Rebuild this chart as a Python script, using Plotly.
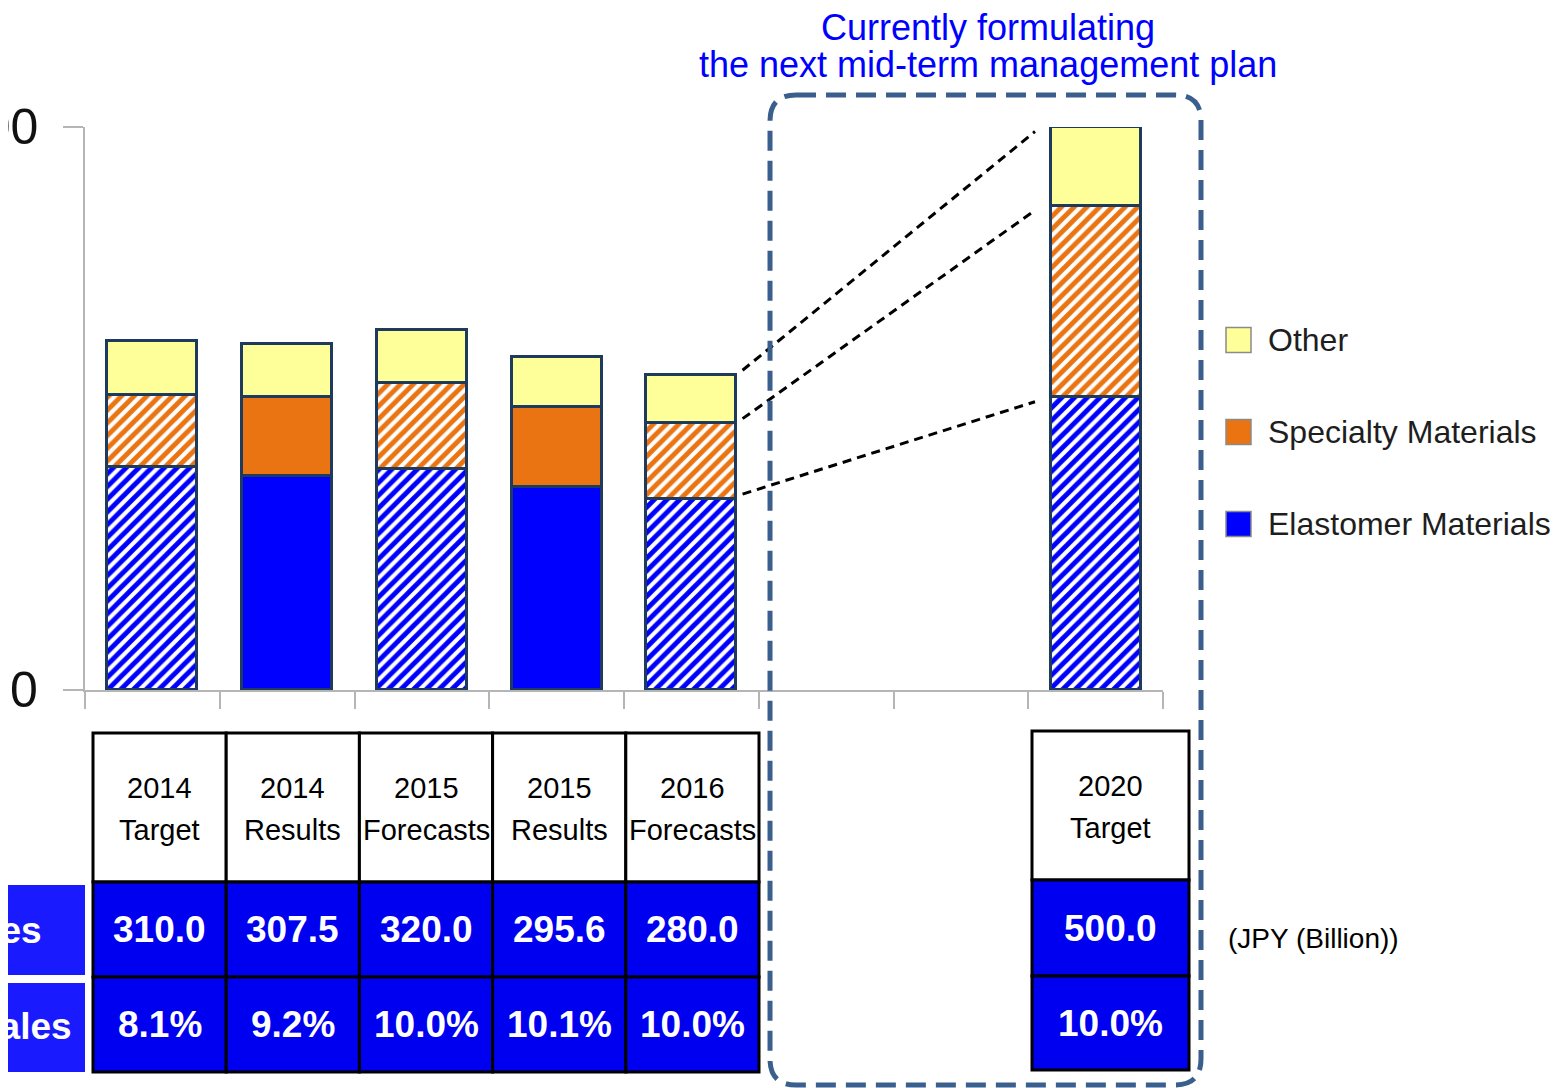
import plotly.graph_objects as go

# ---- data (JPY billion) ----
period_years = ["2014", "2014", "2015", "2015", "2016", "2020"]
period_kinds = ["Target", "Results", "Forecasts", "Results", "Forecasts", "Target"]
bar_slots = [0, 1, 2, 3, 4, 7]
elastomer = [198, 190, 196, 180, 170, 260]
specialty = [64, 70, 77, 71, 67, 170]
other = [48, 47.5, 47, 44.6, 43, 70]
net_sales = [310.0, 307.5, 320.0, 295.6, 280.0, 500.0]
op_margin = [8.1, 9.2, 10.0, 10.1, 10.0, 10.0]
y_ticks = [0, 500]
row_labels = ["Net Sales", "Ratio to Net Sales"]

BLUE = "#0000FF"
ORANGE = "#EA7412"
YELLOW = "#FFFF99"
EDGE = "#1E3A5C"
BOX = "#3B5F8C"
FONT = "Liberation Sans, Arial, sans-serif"

# page has an 8px body margin, so work in screen pixels and shift
OFF = 8
W, H = 1563 - OFF, 1088 - OFF
PL, PR, PT, PB = 85, 1163, 127, 690


def fx(p):
    return (p - PL) / (PR - PL)


def fy(p):
    return (PB - p) / (PB - PT)


hatch = ["" if kind == "Results" else "/" for kind in period_kinds]

fig = go.Figure()
for name, values, color in [
    ("Elastomer Materials", elastomer, BLUE),
    ("Specialty Materials", specialty, ORANGE),
    ("Other", other, YELLOW),
]:
    pattern = None
    if color != YELLOW:
        pattern = dict(shape=hatch, fgcolor=color, fgopacity=1, bgcolor="white", size=9, solidity=0.55)
    fig.add_trace(
        go.Bar(
            x=bar_slots,
            y=values,
            name=name,
            width=0.667,
            marker=dict(color=color, line=dict(color=EDGE, width=3), pattern=pattern),
            showlegend=False,
        )
    )

# dashed connectors from the 2016 bar to the 2020 bar
cum_2016 = [elastomer[4], elastomer[4] + specialty[4], net_sales[4]]
cum_2020 = [elastomer[5], elastomer[5] + specialty[5], net_sales[5]]
for y0, y1 in zip(cum_2016, cum_2020):
    fig.add_trace(
        go.Scatter(
            x=[4.38, 6.55],
            y=[y0 + 4, y1 - 4],
            mode="lines",
            line=dict(color="black", width=3, dash="9px,6px"),
            showlegend=False,
            hoverinfo="skip",
        )
    )

shapes = []
annotations = []


def text(x, y, s, size, color="black", anchor="center"):
    annotations.append(
        dict(
            x=fx(x), y=fy(y), xref="paper", yref="paper", text=s, showarrow=False,
            xanchor=anchor, yanchor="middle", font=dict(family=FONT, size=size, color=color),
        )
    )


def rect(x0, y0, x1, y1, fill, line_color="black", line_width=3):
    shapes.append(
        dict(
            type="rect", xref="paper", yref="paper", x0=fx(x0), x1=fx(x1), y0=fy(y0), y1=fy(y1),
            fillcolor=fill, line=dict(color=line_color, width=line_width), layer="above",
        )
    )


# y tick labels (left one partly cut off by the page edge, as in the source)
for v in y_ticks:
    text(40, PB - v * (PB - PT) / 500, str(v), 50, "#111111", "right")

# data table
for i, slot in enumerate(bar_slots):
    if slot < 5:
        x0 = 93 + 133.2 * slot
        x1 = x0 + 133.2
        rows = [733, 882, 977, 1072]
    else:
        x0, x1 = 1032, 1189
        rows = [731, 880, 976, 1070]
    cx = (x0 + x1) / 2
    rect(x0, rows[0], x1, rows[1], "white")
    rect(x0, rows[1], x1, rows[2], "#0000F0")
    rect(x0, rows[2], x1, rows[3], "#0000F0")
    text(cx, rows[0] + 55, period_years[i], 29)
    text(cx, rows[0] + 97, period_kinds[i], 29)
    text(cx, (rows[1] + rows[2]) / 2, f"<b>{net_sales[i]:.1f}</b>", 37, "white")
    text(cx, (rows[2] + rows[3]) / 2, f"<b>{op_margin[i]:.1f}%</b>", 37, "white")

# row headers, cut off at the left edge
rect(-40, 885, 85, 975, "#1A1AFF", "#1A1AFF", 0)
rect(-40, 983, 85, 1072, "#1A1AFF", "#1A1AFF", 0)
text(44, 930, f"<b>{row_labels[0]}</b>", 37, "white", "right")
text(74, 1026, f"<b>{row_labels[1]}</b>", 37, "white", "right")

text(1226, 938, "(JPY (Billion))", 28, "black", "left")

# legend
for label, color, yc in [("Other", YELLOW, 340), ("Specialty Materials", ORANGE, 432), ("Elastomer Materials", BLUE, 524)]:
    rect(1226, yc - 12.5, 1251, yc + 12.5, color, "#8A8A8A", 1.5)
    text(1266, yc, label, 32, "#1E1E1E", "left")

# title above the dashed frame
text(988, 27, "Currently formulating", 36, BLUE)
text(988, 64, "the next mid-term management plan", 36, BLUE)

# dashed rounded frame around the next plan
bx0, by0, bx1, by1, r = 770, 95, 1201, 1085, 26
pts = [
    ("M", bx0 + r, by0), ("L", bx1 - r, by0), ("Q", bx1, by0, bx1, by0 + r),
    ("L", bx1, by1 - r), ("Q", bx1, by1, bx1 - r, by1), ("L", bx0 + r, by1),
    ("Q", bx0, by1, bx0, by1 - r), ("L", bx0, by0 + r), ("Q", bx0, by0, bx0 + r, by0),
]
path = ""
for cmd, *c in pts:
    coords = " ".join(f"{fx(c[k]):.5f},{fy(c[k + 1]):.5f}" for k in range(0, len(c), 2))
    path += f"{cmd} {coords} "
shapes.append(
    dict(type="path", xref="paper", yref="paper", path=path + "Z",
         line=dict(color=BOX, width=5, dash="20px,10px"), layer="above")
)

fig.update_layout(
    width=W,
    height=H,
    margin=dict(l=PL - OFF, r=W - (PR - OFF), t=PT - OFF, b=H - (PB - OFF), autoexpand=False),
    paper_bgcolor="white",
    plot_bgcolor="white",
    barmode="stack",
    bargap=0,
    showlegend=False,
    shapes=shapes,
    annotations=annotations,
    font=dict(family=FONT),
    xaxis=dict(
        range=[-0.5, 7.5],
        tickvals=[k - 0.5 for k in range(9)],
        ticks="outside",
        ticklen=17,
        tickwidth=2,
        tickcolor="#B5B5B5",
        showticklabels=False,
        showline=True,
        linecolor="#B5B5B5",
        linewidth=2,
        showgrid=False,
        zeroline=False,
    ),
    yaxis=dict(
        range=[0, 500],
        tickvals=y_ticks,
        ticks="outside",
        ticklen=20,
        tickwidth=2,
        tickcolor="#B5B5B5",
        showticklabels=False,
        showline=True,
        linecolor="#B5B5B5",
        linewidth=2,
        showgrid=True,
        gridcolor="#BDBDBD",
        griddash="dot",
        gridwidth=1.5,
        zeroline=False,
    ),
)

fig.write_html("out.html")
